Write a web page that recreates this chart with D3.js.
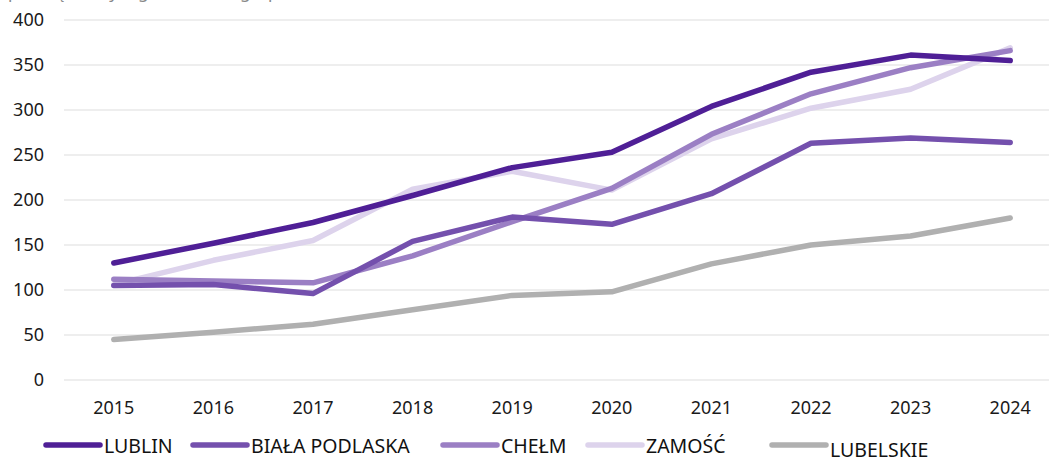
<!DOCTYPE html>
<html><head><meta charset="utf-8">
<script src="https://cdn.jsdelivr.net/npm/d3@7"></script>
<style>body{margin:0;background:#fff;}svg{display:block;font-family:"Noto Sans",sans-serif;}</style>
</head><body><svg id="c" width="1049" height="458"></svg>
<script>
const years = ["2015","2016","2017","2018","2019","2020","2021","2022","2023","2024"];
const seriesNames = ["LUBLIN","BIAŁA PODLASKA","CHEŁM","ZAMOŚĆ","LUBELSKIE"];
const lublin     = [130,152,175,205,236,253,304,342,361,355];
const bialaPodl  = [105,106,96,154,181,173,207,263,269,264];
const chelm      = [112,110,108,138,176,213,273,318,347,366];
const zamosc     = [106,133,155,212,232,211,268,302,323,369];
const lubelskie  = [45,53,62,78,94,98,129,150,160,180];
const yTicks = [0,50,100,150,200,250,300,350,400];
const colors = ["#4f1f96","#7450ad","#9b7fc4","#ddd3ec","#b0b0b0"];
const subtitle = "przeciętne wynagrodzenie w grupie";

const values = [lublin,bialaPodl,chelm,zamosc,lubelskie];
const svg = d3.select("#c");
const x = d3.scaleBand().domain(years).range([64,1060]);
const y = d3.scaleLinear().domain([0,400]).range([380,20]);

svg.append("text").attr("x",8).attr("y",-2).attr("fill","#888").attr("font-size",17).text(subtitle);

svg.append("g").selectAll("line").data(yTicks).join("line")
  .attr("x1",64).attr("x2",1049).attr("y1",d=>y(d)).attr("y2",d=>y(d))
  .attr("stroke","#dedede").attr("stroke-width",1.2);
svg.append("g").selectAll("text").data(yTicks).join("text")
  .attr("x",44).attr("y",d=>y(d)).attr("dy","0.35em").attr("text-anchor","end")
  .attr("font-size",18).attr("fill","#1a1a1a").text(d=>d);
svg.append("g").selectAll("text").data(years).join("text")
  .attr("x",d=>x(d)+x.bandwidth()/2).attr("y",408).attr("dy","0.35em").attr("text-anchor","middle")
  .attr("font-size",18).attr("fill","#1a1a1a").text(d=>d);

const line = d3.line().x((d,i)=>x(years[i])+x.bandwidth()/2).y(d=>y(d));
const order = [4,3,2,1,0];
svg.append("g").selectAll("path").data(order).join("path")
  .attr("d",i=>line(values[i])).attr("fill","none").attr("stroke",i=>colors[i])
  .attr("stroke-width",5.5).attr("stroke-linecap","round").attr("stroke-linejoin","round");

const legX = [46,193,443,588,772];
const legY = [446,446,446,446,450];
const lg = svg.append("g").selectAll("g").data(seriesNames).join("g");
lg.append("line").attr("x1",(d,i)=>legX[i]).attr("x2",(d,i)=>legX[i]+54)
  .attr("y1",445).attr("y2",445).attr("stroke",(d,i)=>colors[i]).attr("stroke-width",5.5).attr("stroke-linecap","round");
lg.append("text").attr("x",(d,i)=>legX[i]+58).attr("y",(d,i)=>legY[i]).attr("dy","0.35em")
  .attr("font-size",19.5).attr("fill","#111").style("font-family","'Liberation Sans Narrow','Noto Sans',sans-serif").text(d=>d);
</script></body></html>
